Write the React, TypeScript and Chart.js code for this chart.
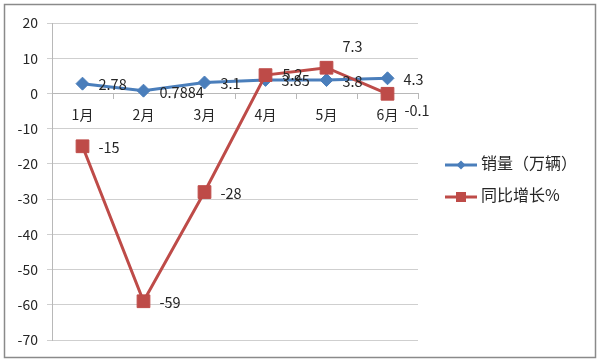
import React, { useEffect, useRef } from 'react';
import { Chart, registerables } from 'chart.js';

Chart.register(...registerables);

// ---- data ----
const categories = ['1月', '2月', '3月', '4月', '5月', '6月'];
const salesValues = [2.78, 0.7884, 3.1, 3.85, 3.8, 4.3];
const growthValues = [-15, -59, -28, 5.2, 7.3, -0.1];
const seriesNames = ['销量（万辆）', '同比增长%'];
const yMin = -70;
const yMax = 20;
const yStep = 10;

// ---- style ----
const BLUE = '#4A7EBB';
const RED = '#BE4B48';
const GRID = '#cfcfcf';
const AXIS = '#b8b8b8';
const TEXT = '#262626';
const FONT = '"Noto Sans CJK SC", "Noto Sans", sans-serif';
const colors = [BLUE, RED];
const labelOffsets: number[][][] = [
  [[16, 1], [16, 2], [16, 1], [16, 1], [16, 1], [16, 1]],
  [[16, 1], [16, 1], [16, 1], [17, -1], [16, -21], [17, 17]],
];

const dataLabelPlugin = {
  id: 'dataLabels',
  afterDatasetsDraw(chart: any) {
    const ctx = chart.ctx;
    ctx.save();
    ctx.font = `14.5px ${FONT}`;
    ctx.fillStyle = TEXT;
    ctx.textAlign = 'left';
    ctx.textBaseline = 'middle';
    chart.data.datasets.forEach((ds: any, di: number) => {
      const meta = chart.getDatasetMeta(di);
      meta.data.forEach((pt: any, i: number) => {
        const [dx, dy] = labelOffsets[di][i];
        ctx.fillText(String(ds.data[i]), pt.x + dx, pt.y + dy);
      });
    });
    ctx.restore();
  },
};

const frameLegendPlugin = {
  id: 'frameLegend',
  afterDraw(chart: any) {
    const ctx = chart.ctx;
    ctx.save();
    // outer frame
    ctx.strokeStyle = '#8a8a8a';
    ctx.lineWidth = 1.5;
    ctx.strokeRect(4.5, 4.5, 591, 353);
    // legend
    const lineY = [165, 197];
    const textY = [163, 195];
    seriesNames.forEach((name, i) => {
      const c = colors[i];
      ctx.strokeStyle = c;
      ctx.lineWidth = 3;
      ctx.beginPath();
      ctx.moveTo(445, lineY[i]);
      ctx.lineTo(477, lineY[i]);
      ctx.stroke();
      ctx.fillStyle = c;
      ctx.beginPath();
      if (i === 0) {
        const r = 4.5;
        ctx.moveTo(461 - r, lineY[i]);
        ctx.lineTo(461, lineY[i] - r);
        ctx.lineTo(461 + r, lineY[i]);
        ctx.lineTo(461, lineY[i] + r);
        ctx.closePath();
      } else {
        ctx.rect(456, lineY[i] - 5, 10, 10);
      }
      ctx.fill();
      ctx.fillStyle = TEXT;
      ctx.font = `16px ${FONT}`;
      ctx.textAlign = 'left';
      ctx.textBaseline = 'middle';
      ctx.fillText(name, 481, textY[i]);
    });
    ctx.restore();
  },
};

export default function App() {
  const ref = useRef<HTMLCanvasElement | null>(null);
  useEffect(() => {
    if (!ref.current) return;
    const chart = new Chart(ref.current, {
      type: 'line',
      data: {
        labels: categories,
        datasets: [
          {
            label: seriesNames[0],
            data: salesValues,
            borderColor: BLUE,
            backgroundColor: BLUE,
            borderWidth: 3,
            pointStyle: 'rectRot',
            pointRadius: 6.5,
            pointBorderWidth: 1,
            tension: 0,
            order: 1,
          },
          {
            label: seriesNames[1],
            data: growthValues,
            borderColor: RED,
            backgroundColor: RED,
            borderWidth: 3,
            pointStyle: 'rect',
            pointRadius: 9,
            pointBorderWidth: 1,
            tension: 0,
            order: 0,
          },
        ],
      },
      options: {
        animation: false,
        responsive: false,
        layout: { padding: { left: 4, top: 23, right: 182, bottom: 22 } },
        plugins: { legend: { display: false }, tooltip: { enabled: false } },
        scales: {
          x: {
            position: { y: 0 } as any,
            offset: true,
            grid: {
              display: true,
              drawOnChartArea: false,
              drawTicks: true,
              tickLength: 5,
              offset: true,
              color: AXIS,
            },
            border: { display: true, color: AXIS, width: 1 },
            ticks: { color: TEXT, font: { family: FONT, size: 14 }, padding: 8, maxRotation: 0 },
          },
          y: {
            min: yMin,
            max: yMax,
            afterFit(scale: any) {
              scale.width = 48;
            },
            grid: { color: GRID, tickLength: 5, drawTicks: true },
            border: { display: true, color: AXIS, width: 1 },
            ticks: { stepSize: yStep, color: TEXT, font: { family: FONT, size: 14 }, padding: 9 },
          },
        },
      },
      plugins: [dataLabelPlugin, frameLegendPlugin],
    });
    return () => chart.destroy();
  }, []);
  return (
    <div style={{ position: 'fixed', left: 0, top: 0, width: 600, height: 362, background: '#fff' }}>
      <canvas ref={ref} width={600} height={362} style={{ display: 'block' }} />
    </div>
  );
}
